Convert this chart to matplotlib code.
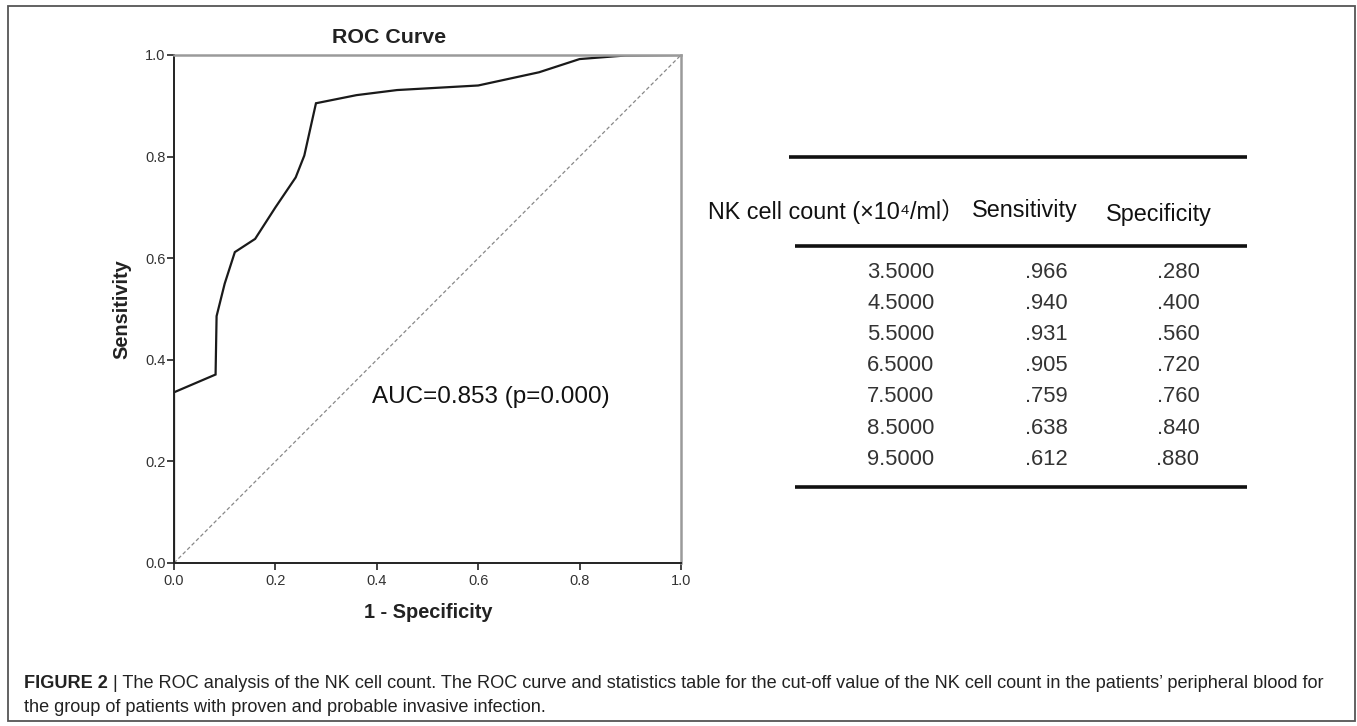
import numpy as np
import matplotlib
matplotlib.use("Agg")
import matplotlib.pyplot as plt
from matplotlib.patches import Rectangle

plt.rcParams['font.family'] = ['Liberation Sans', 'Noto Sans CJK SC', 'DejaVu Sans']

# ROC curve points (1 - specificity, sensitivity)
fpr = [0.0, 0.0, 0.082, 0.084, 0.10, 0.12, 0.16, 0.20, 0.24, 0.257, 0.28,
       0.36, 0.44, 0.60, 0.72, 0.80, 0.89, 1.0]
tpr = [0.0, 0.336, 0.371, 0.486, 0.55, 0.612, 0.638, 0.70, 0.759, 0.802, 0.905,
       0.921, 0.931, 0.940, 0.966, 0.992, 0.999, 1.0]

# statistics table
cutoffs = ["3.5000", "4.5000", "5.5000", "6.5000", "7.5000", "8.5000", "9.5000"]
sensitivity = [".966", ".940", ".931", ".905", ".759", ".638", ".612"]
specificity = [".280", ".400", ".560", ".720", ".760", ".840", ".880"]
headers = ["NK cell count (×10⁴/ml）", "Sensitivity", "Specificity"]

ticks = [0.0, 0.2, 0.4, 0.6, 0.8, 1.0]
tick_labels = ["0.0", "0.2", "0.4", "0.6", "0.8", "1.0"]

W, H = 1357, 726
fig = plt.figure(figsize=(W / 100, H / 100), dpi=100)


def px_box(x0, y0, x1, y1):
    # pixel box (top-left origin) -> figure fraction
    return [x0 / W, 1 - y1 / H, (x1 - x0) / W, (y1 - y0) / H]


# outer frame
fig.patches.append(Rectangle((8 / W, 1 - 721 / H), 1347 / W, 715 / H,
                             transform=fig.transFigure, fill=False,
                             edgecolor='#555555', lw=1.3))

# ---- ROC plot ----
ax = fig.add_axes(px_box(174, 55, 681, 563))
ax.plot(fpr, tpr, color='#1a1a1a', lw=1.6, solid_joinstyle='miter')
ax.plot([0, 1], [0, 1], color='#888888', lw=0.9, ls=(0, (3, 2)))
ax.set_xlim(0, 1)
ax.set_ylim(0, 1)
ax.set_xticks(ticks)
ax.set_xticklabels(tick_labels)
ax.set_yticks(ticks)
ax.set_yticklabels(tick_labels)
ax.tick_params(direction='out', length=5, width=1.2, labelsize=10.5,
               labelcolor='#333333', color='#222222')
ax.tick_params(axis='y', pad=1)
ax.tick_params(axis='x', pad=3)
for side in ['left', 'bottom']:
    ax.spines[side].set_color('#222222')
    ax.spines[side].set_linewidth(1.4)
for side in ['top', 'right']:
    ax.spines[side].set_color('#9a9a9a')
    ax.spines[side].set_linewidth(1.8)

ax.set_xlabel("1 - Specificity", fontsize=14.4, fontweight='bold', color='#222222')
ax.xaxis.set_label_coords(0.501, -0.079)
ax.set_ylabel("Sensitivity", fontsize=14.4, fontweight='bold', color='#222222')
ax.yaxis.set_label_coords(-0.085, 0.5)
ax.text(0.424, 1.035, "ROC Curve", transform=ax.transAxes, ha='center',
        va='center', fontsize=15.4, fontweight='bold', color='#222222')
ax.text(0.39, 0.327, "AUC=0.853 (p=0.000)", ha='left', va='center',
        fontsize=17.5, color='#111111')

# ---- statistics table ----
tx = fig.add_axes(px_box(690, 140, 1260, 500))
tx.set_xlim(690, 1260)
tx.set_ylim(500, 140)
tx.axis('off')

line_x0 = [789, 795, 795]
line_y = [157, 246, 487]
for x0, y in zip(line_x0, line_y):
    tx.plot([x0, 1247], [y, y], color='#111111', lw=2.6, solid_capstyle='butt')

header_x = [708, 972, 1106]
header_y = [212, 211, 214]
for hx, hy, h in zip(header_x, header_y, headers):
    tx.text(hx, hy, h, ha='left', va='center', fontsize=16.8, color='#111111')

col_x = [901, 1046, 1178]
row_y0, row_step = 272, 31.2
for i, row in enumerate(zip(cutoffs, sensitivity, specificity)):
    for cx, val in zip(col_x, row):
        tx.text(cx, row_y0 + i * row_step, val, ha='center', va='center',
                fontsize=15.8, color='#333333')

# ---- caption ----
cap_bold = "FIGURE 2 "
cap_line1 = ("| The ROC analysis of the NK cell count. The ROC curve and statistics "
             "table for the cut-off value of the NK cell count in the patients\u2019 "
             "peripheral blood for")
cap_line2 = "the group of patients with proven and probable invasive infection."

renderer = fig.canvas.get_renderer()
x_start, x_end = 24, 1328

# measure at a trial size, then scale so line 1 fills the measured width
fs0 = 12.0
t1 = fig.text(0, 0, cap_bold, fontsize=fs0, fontweight='bold')
t2 = fig.text(0, 0, cap_line1, fontsize=fs0)
total = t1.get_window_extent(renderer).width + t2.get_window_extent(renderer).width
t1.remove()
t2.remove()
fs = fs0 * (x_end - x_start) / total

tb = fig.text(x_start / W, 1 - 683 / H, cap_bold, fontsize=fs, fontweight='bold',
              color='#222222', va='center', ha='left')
wb = tb.get_window_extent(renderer).width
fig.text((x_start + wb) / W, 1 - 683 / H, cap_line1, fontsize=fs,
         color='#222222', va='center', ha='left')
fig.text(x_start / W, 1 - 708 / H, cap_line2, fontsize=fs, color='#222222',
         va='center', ha='left')

fig.savefig("out.png", dpi=100)
